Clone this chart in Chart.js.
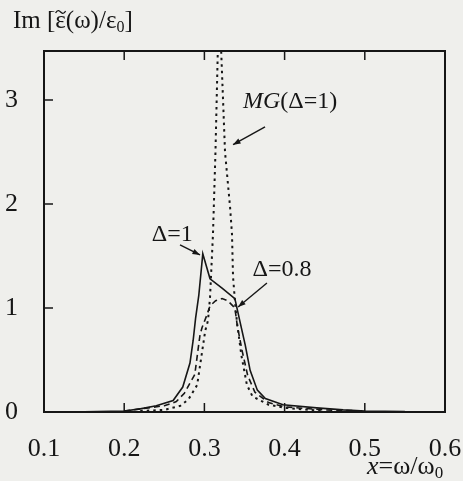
<!DOCTYPE html>
<html>
<head>
<meta charset="utf-8">
<script src="https://cdn.jsdelivr.net/npm/chart.js@4/dist/chart.umd.min.js"></script>
<style>
  html, body { margin:0; padding:0; background:#efefec; }
  canvas { display:block; }
</style>
</head>
<body>
<canvas id="eps" width="463" height="481"></canvas>
<script>
// ticks
const xTicks = [0.1, 0.2, 0.3, 0.4, 0.5, 0.6];
const yTicks = [0, 1, 2, 3];

// solid: Δ=1
const xSolid = [0.15, 0.2, 0.22, 0.24, 0.261, 0.273, 0.282, 0.286, 0.289, 0.293, 0.298, 0.307, 0.322, 0.338, 0.344, 0.351, 0.357, 0.366, 0.376, 0.398, 0.44, 0.473, 0.5, 0.55];
const ySolid = [0.003, 0.01, 0.03, 0.06, 0.11, 0.24, 0.47, 0.69, 0.9, 1.12, 1.52, 1.28, 1.19, 1.09, 0.88, 0.64, 0.40, 0.21, 0.13, 0.07, 0.04, 0.02, 0.01, 0.005];

// dashed: Δ=0.8
const xDash = [0.2, 0.22, 0.25, 0.265, 0.275, 0.288, 0.2945, 0.297, 0.303, 0.307, 0.314, 0.322, 0.329, 0.338, 0.341, 0.347, 0.354, 0.363, 0.38, 0.4, 0.45, 0.5];
const yDash = [0.01, 0.03, 0.06, 0.1, 0.18, 0.36, 0.74, 0.81, 0.93, 1.02, 1.07, 1.09, 1.07, 1.0, 0.83, 0.59, 0.35, 0.19, 0.09, 0.05, 0.02, 0.01];

// dotted: MG(Δ=1)
const xDot = [0.22, 0.25, 0.27, 0.28, 0.291, 0.301, 0.3045, 0.307, 0.3107, 0.3138, 0.3183, 0.3257, 0.332, 0.3344, 0.3357, 0.339, 0.341, 0.346, 0.353, 0.36, 0.38, 0.4, 0.45];
const yDot = [0.01, 0.02, 0.06, 0.12, 0.26, 0.78, 0.88, 1.10, 1.71, 2.5, 4.0, 2.5, 1.97, 1.71, 1.3, 0.98, 0.84, 0.55, 0.26, 0.15, 0.07, 0.04, 0.01];

const ink = '#161616';
const serif = '"Liberation Serif", "Times New Roman", serif';

const pts = (xs, ys) => xs.map((x, i) => ({ x, y: ys[i] }));

// labels with arrows, placed in data coordinates
const notes = [
  { text: 'MG', italic: true, rest: '(Δ=1)', x: 0.348, y: 3.0, from: [0.3756, 2.74], to: [0.3357, 2.57] },
  { text: '', rest: 'Δ=1', x: 0.2345, y: 1.72, from: [0.2696, 1.606], to: [0.2945, 1.51] },
  { text: '', rest: 'Δ=0.8', x: 0.360, y: 1.38, from: [0.378, 1.24], to: [0.342, 1.01] }
];

function arrow(ctx, x1, y1, x2, y2) {
  ctx.beginPath();
  ctx.moveTo(x1, y1);
  ctx.lineTo(x2, y2);
  ctx.stroke();
  const a = Math.atan2(y2 - y1, x2 - x1), h = 8;
  ctx.beginPath();
  ctx.moveTo(x2, y2);
  ctx.lineTo(x2 - h * Math.cos(a - 0.35), y2 - h * Math.sin(a - 0.35));
  ctx.lineTo(x2 - h * Math.cos(a + 0.35), y2 - h * Math.sin(a + 0.35));
  ctx.closePath();
  ctx.fill();
}

// draw a row of text pieces: [text, font, dy, tilde?]
function runs(ctx, x, y, parts) {
  ctx.textBaseline = 'alphabetic';
  ctx.textAlign = 'left';
  parts.forEach(([t, f, dy, tilde]) => {
    ctx.font = f;
    ctx.fillText(t, x, y + (dy || 0));
    const w = ctx.measureText(t).width;
    if (tilde) {
      // small wave above the letter
      const cx = x + w / 2, cy = y - 16;
      ctx.save();
      ctx.lineWidth = 1.3;
      ctx.beginPath();
      ctx.moveTo(cx - 5, cy + 1);
      ctx.bezierCurveTo(cx - 3, cy - 3, cx - 1, cy - 1, cx, cy);
      ctx.bezierCurveTo(cx + 1, cy + 1, cx + 3, cy + 3, cx + 5, cy - 1);
      ctx.stroke();
      ctx.restore();
    }
    x += w;
  });
}

const frame = {
  id: 'frame',
  beforeDraw(chart) {
    const { ctx, width, height } = chart;
    ctx.save();
    ctx.fillStyle = '#efefec';
    ctx.fillRect(0, 0, width, height);
    ctx.restore();
  },
  afterDraw(chart) {
    const { ctx, chartArea: a, scales: { x, y } } = chart;
    ctx.save();
    ctx.strokeStyle = ink;
    ctx.fillStyle = ink;
    ctx.lineWidth = 2;
    ctx.strokeRect(a.left, a.top, a.right - a.left, a.bottom - a.top);
    ctx.lineWidth = 1.5;
    ctx.beginPath();
    xTicks.slice(1, -1).forEach(v => {
      const px = x.getPixelForValue(v);
      ctx.moveTo(px, a.bottom); ctx.lineTo(px, a.bottom - 9);
      ctx.moveTo(px, a.top); ctx.lineTo(px, a.top + 9);
    });
    yTicks.slice(1).forEach(v => {
      const py = y.getPixelForValue(v);
      ctx.moveTo(a.left, py); ctx.lineTo(a.left + 9, py);
    });
    ctx.stroke();

    // axis titles
    runs(ctx, 13, 28, [
      ['Im [', '25px ' + serif],
      ['ε', '25px ' + serif, 0, true],
      ['(ω)/ε', '25px ' + serif],
      ['0', '16px ' + serif, 4],
      [']', '25px ' + serif]
    ]);
    runs(ctx, 367, 474, [
      ['x', 'italic 26px ' + serif],
      ['=ω/ω', '26px ' + serif],
      ['0', '17px ' + serif, 4]
    ]);

    // annotations
    ctx.lineWidth = 1.4;
    notes.forEach(n => {
      const tx = x.getPixelForValue(n.x), ty = y.getPixelForValue(n.y) + 8;
      const parts = [];
      if (n.text) parts.push([n.text, (n.italic ? 'italic ' : '') + '24px ' + serif]);
      parts.push([n.rest, '24px ' + serif]);
      runs(ctx, tx, ty, parts);
      arrow(ctx, x.getPixelForValue(n.from[0]), y.getPixelForValue(n.from[1]),
                 x.getPixelForValue(n.to[0]), y.getPixelForValue(n.to[1]));
    });
    ctx.restore();
  }
};

const line = (data, dash, w) => ({
  data, borderColor: ink, borderWidth: w, borderDash: dash,
  pointRadius: 0, tension: 0, fill: false
});

new Chart(document.getElementById('eps'), {
  type: 'line',
  data: {
    datasets: [
      line(pts(xDot, yDot), [2.5, 4], 2),
      line(pts(xDash, yDash), [6, 4], 1.6),
      line(pts(xSolid, ySolid), [], 1.6)
    ]
  },
  options: {
    responsive: false,
    animation: false,
    layout: { padding: { top: 51, right: 18, left: 0, bottom: 0 } },
    plugins: { legend: { display: false }, tooltip: { enabled: false } },
    scales: {
      x: {
        type: 'linear', min: 0.1, max: 0.6,
        afterBuildTicks: s => { s.ticks = xTicks.map(v => ({ value: v })); },
        afterFit: s => { s.height = 69; s.paddingLeft = 0; s.paddingRight = 0; },
        grid: { display: false },
        border: { display: false },
        ticks: { color: ink, padding: 14, maxRotation: 0, font: { family: serif, size: 26 }, callback: v => v.toFixed(1) }
      },
      y: {
        min: 0, max: 3.47,
        afterBuildTicks: s => { s.ticks = yTicks.map(v => ({ value: v })); },
        afterFit: s => { s.width = 44; s.paddingTop = 0; s.paddingBottom = 0; },
        grid: { display: false },
        border: { display: false },
        ticks: { color: ink, padding: 18, font: { family: serif, size: 26 }, callback: v => String(v) }
      }
    }
  },
  plugins: [frame]
});
</script>
</body>
</html>
